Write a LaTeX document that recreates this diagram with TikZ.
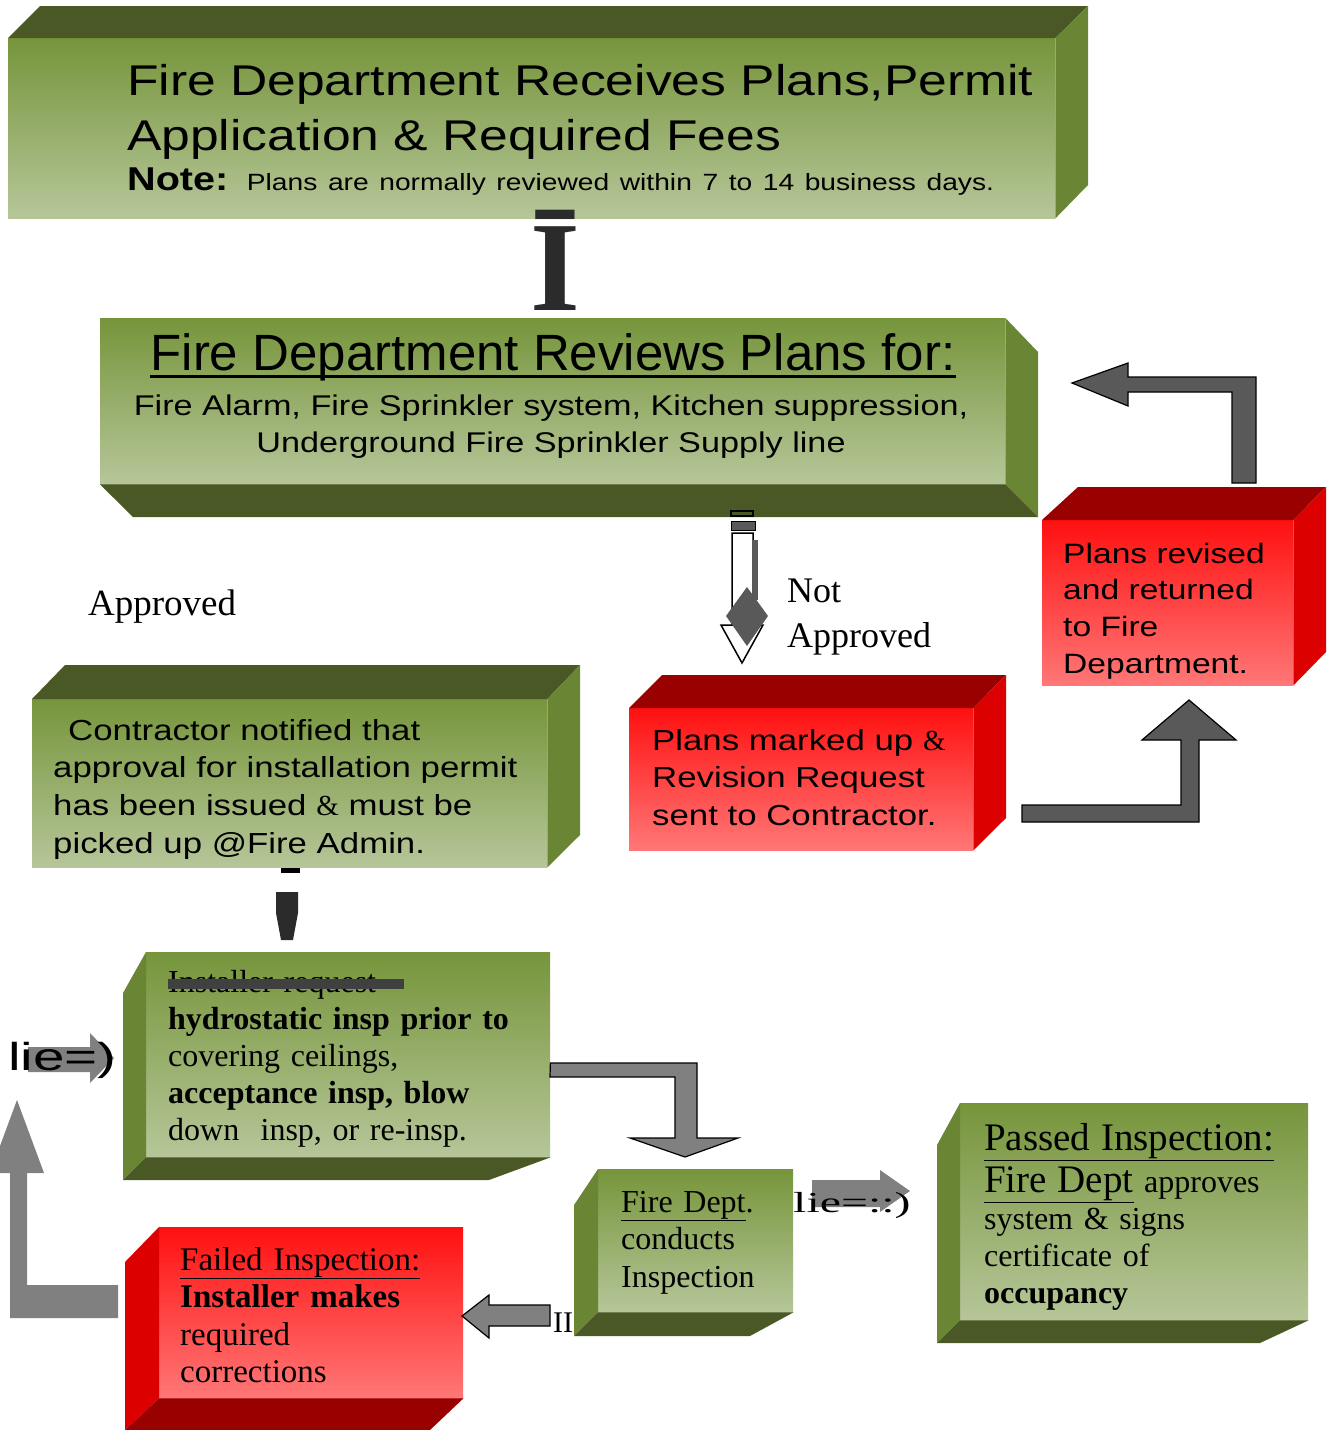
\documentclass[tikz,border=0pt]{standalone}
\usepackage{fontspec}
\setmainfont{Liberation Serif}[WordSpace=1.1]
\newfontfamily\widesf[FakeStretch=1.2,WordSpace=1.35]{Liberation Sans}
\newfontfamily\plainsf{Liberation Sans}
\usetikzlibrary{positioning}

\definecolor{olivedark}{HTML}{4A5826}
\definecolor{oliveside}{HTML}{6A8534}
\definecolor{olivetop}{HTML}{76953B}
\definecolor{olivebot}{HTML}{B6C699}
\definecolor{reddark}{HTML}{990000}
\definecolor{redside}{HTML}{DD0000}
\definecolor{redtop}{HTML}{FF1010}
\definecolor{redbot}{HTML}{FF7777}
\definecolor{arrowdark}{HTML}{595959}
\definecolor{arrowgrey}{HTML}{808080}
\definecolor{glyphgrey}{HTML}{2B2B2B}

\newcommand{\fsz}[2]{\fontsize{#1}{#2}\selectfont}

\begin{document}
\begin{tikzpicture}[x=1pt,y=-1pt,
    gface/.style={inner sep=0pt, top color=olivetop, bottom color=olivebot},
    rface/.style={inner sep=0pt, top color=redtop, bottom color=redbot},
    txt/.style={anchor=base west, inner sep=0pt, align=left},
    darrow/.style={fill=arrowdark, draw=black, line width=1.2pt},
    garrow/.style={fill=arrowgrey, draw=black, line width=1.2pt}]
   \useasboundingbox (0,0) rectangle (1334,1430);
   \clip (0,0) rectangle (1334,1430);

   % receives plans
   \node[gface, anchor=north west, minimum width=1047pt, minimum height=180pt] (recv) at (8,38) {};
   \fill[olivedark] (recv.north west) -- (40,6) -- (1088,6) -- (recv.north east) -- cycle;
   \fill[oliveside] (recv.north east) -- (1088,6) -- (1088,185) -- (recv.south east) -- cycle;
   \node[txt, text width=1000pt, font=\widesf\fsz{43}{55}] (recvtxt) at (127,95)
     {Fire Department Receives Plans,Permit\\Application \& Required Fees};
   \node[txt, font=\widesf] (note) at (127,190)
     {\fsz{33}{40}\bfseries Note: \mdseries\fsz{23.5}{30}Plans are normally reviewed within 7 to 14 business days.};

   % reviews plans
   \node[gface, anchor=north west, minimum width=905pt, minimum height=166pt] (review) at (100,318) {};
   \fill[oliveside] (review.north east) -- (1038,352) -- (1038,517) -- (review.south east) -- cycle;
   \fill[olivedark] (review.south west) -- (review.south east) -- (1038,517) -- (133,517) -- cycle;
   \node[anchor=base, inner sep=0pt, font=\plainsf\fsz{51}{60}] (reviewtitle) at (553,370)
     {Fire Department Reviews Plans for:};
   \fill[black] (reviewtitle.base west) ++(0,5) rectangle ([yshift=-8pt]reviewtitle.base east);
   \node[anchor=base, inner sep=0pt, text width=900pt, align=center, font=\widesf\fsz{28.5}{37}] (reviewtxt) at (551,415)
     {Fire Alarm, Fire Sprinkler system, Kitchen suppression,\\Underground Fire Sprinkler Supply line};

   % revised
   \node[rface, anchor=north west, minimum width=251pt, minimum height=165pt] (revised) at (1042,520) {};
   \fill[reddark] (revised.north west) -- (1078,487) -- (1326,487) -- (revised.north east) -- cycle;
   \fill[redside] (revised.north east) -- (1326,487) -- (1326,652) -- (revised.south east) -- cycle;
   \node[txt, text width=230pt, font=\widesf\fsz{28}{36.7}] (revisedtxt) at (1063,563)
     {Plans revised\\and returned\\to Fire\\Department.};

   % contractor notified
   \node[gface, anchor=north west, minimum width=515pt, minimum height=168pt] (notify) at (32,699) {};
   \fill[olivedark] (notify.north west) -- (65,665) -- (580,665) -- (notify.north east) -- cycle;
   \fill[oliveside] (notify.north east) -- (580,665) -- (580,835) -- (notify.south east) -- cycle;
   \node[txt, text width=490pt, font=\widesf\fsz{29}{37.7}] (notifytxt) at (53,740)
     {\hspace*{15pt}Contractor notified that\\approval for installation permit\\has been issued {\rmfamily\&} must be\\picked up @Fire Admin.};

   % marked up
   \node[rface, anchor=north west, minimum width=344pt, minimum height=142pt] (markup) at (629,708) {};
   \fill[reddark] (markup.north west) -- (662,675) -- (1006,675) -- (markup.north east) -- cycle;
   \fill[redside] (markup.north east) -- (1006,675) -- (1006,818) -- (markup.south east) -- cycle;
   \node[txt, text width=320pt, font=\widesf\fsz{29}{37.5}] (markuptxt) at (652,750)
     {Plans marked up {\rmfamily\&}\\Revision Request\\sent to Contractor.};

   % installer request
   \node[gface, anchor=north west, minimum width=404pt, minimum height=205pt] (request) at (146,952) {};
   \fill[oliveside] (123,993) -- (request.north west) -- (request.south west) -- (123,1180) -- cycle;
   \fill[olivedark] (request.south west) -- (request.south east) -- (489,1180) -- (123,1180) -- cycle;
   \node[txt, text width=380pt, font=\fsz{32}{37}] (requesttxt) at (168,992)
     {Installer request\\\textbf{hydrostatic insp prior to}\\covering ceilings,\\\textbf{acceptance insp, blow}\\down\ \ insp, or re-insp.};
   \fill[black!75] (168,979) rectangle (404,989);

   % conducts inspection
   \node[gface, anchor=north west, minimum width=195pt, minimum height=143pt] (inspect) at (598,1169) {};
   \fill[oliveside] (574,1205) -- (inspect.north west) -- (inspect.south west) -- (574,1336) -- cycle;
   \fill[olivedark] (inspect.south west) -- (inspect.south east) -- (750,1336) -- (574,1336) -- cycle;
   \node[txt, text width=170pt, font=\fsz{32}{37.5}] (inspecttxt) at (621,1212)
     {\underline{Fire Dept}.\\conducts\\Inspection};

   % passed
   \node[gface, anchor=north west, minimum width=348pt, minimum height=217pt] (passed) at (960,1103) {};
   \fill[oliveside] (937,1145) -- (passed.north west) -- (passed.south west) -- (937,1343) -- cycle;
   \fill[olivedark] (passed.south west) -- (passed.south east) -- (1260,1343) -- (937,1343) -- cycle;
   \node[txt, text width=330pt, font=\fsz{32}{37}] (passedtxt) at (984,1150)
     {{\fsz{39}{37}\underline{Passed Inspection:}}\\[5pt]{\fsz{39}{37}\underline{Fire Dept}} approves\\system \& signs\\certificate of\\\textbf{occupancy}};

   % failed
   \node[rface, anchor=north west, minimum width=304pt, minimum height=171pt] (failed) at (159,1227) {};
   \fill[redside] (125,1262) -- (failed.north west) -- (failed.south west) -- (125,1430) -- cycle;
   \fill[reddark] (failed.south west) -- (failed.south east) -- (430,1430) -- (125,1430) -- cycle;
   \node[txt, text width=290pt, font=\fsz{33}{37.5}] (failedtxt) at (180,1270)
     {\underline{Failed Inspection:}\\\textbf{Installer makes}\\required\\corrections};

   % connectors
   \node[anchor=base, inner sep=0pt, text=glyphgrey, font=\fsz{128}{128}\bfseries] (glyph) at (555,310) {Ī};

   \draw[black, line width=1.2pt] (731,511) rectangle (753,516);
   \filldraw[fill=arrowdark, draw=black, line width=1pt] (731,521) rectangle (755,530);
   \filldraw[fill=white, draw=black, line width=1.5pt]
     (732,533) -- (753,533) -- (753,625) -- (763,625) -- (742,663) -- (721,625) -- (732,625) -- cycle;
   \fill[arrowdark] (752,540) rectangle (758,600);
   \fill[arrowdark] (726,616) -- (747,587) -- (768,616) -- (747,646) -- cycle;
   \node[txt, text width=200pt, font=\fsz{36}{45}] (notok) at (787,602) {Not\\Approved};
   \node[txt, font=\fsz{37}{45}] (ok) at (88,615) {Approved};

   \filldraw[darrow] (1022,805) -- (1181,805) -- (1181,740) -- (1142,740) -- (1189,700)
     -- (1236,740) -- (1199,740) -- (1199,822) -- (1022,822) -- cycle;
   \filldraw[darrow] (1232,483) -- (1232,392) -- (1128,392) -- (1128,406) -- (1072,383)
     -- (1128,363) -- (1128,377) -- (1256,377) -- (1256,483) -- cycle;

   \fill[black] (281,868) rectangle (300,873);
   \fill[glyphgrey] (276,892) -- (298,892) -- (298,913) -- (293,940) -- (281,940) -- (276,913) -- cycle;

   \filldraw[garrow] (request.east |- 0,1063) -- (697,1063) -- (697,1138) -- (738,1138) -- (685,1157)
     -- (630,1138) -- (675,1138) -- (675,1077) -- (550,1077) -- cycle;
   \fill[arrowgrey] (812,1180) -- (880,1180) -- (880,1170) -- (910,1191) -- (880,1212)
     -- (880,1207) -- (812,1207) -- cycle;
   \node[txt, font=\fsz{29}{30}] (garble2) at (793,1212) {\scalebox{1.65}[1]{lie=::)}};
   \filldraw[garrow] (550,1305) -- (489,1305) -- (489,1295) -- (462,1316) -- (489,1338)
     -- (489,1326) -- (550,1326) -- cycle;
   \node[txt, font=\fsz{30}{30}] (mark) at (553,1332) {II};
   \fill[arrowgrey] (118,1285) -- (27,1285) -- (27,1173) -- (44,1173) -- (17,1100) -- (-10,1173)
     -- (10,1173) -- (10,1318) -- (118,1318) -- cycle;
   \fill[arrowgrey] (28,1047) -- (90,1047) -- (90,1033) -- (114,1058) -- (90,1083) -- (90,1072)
     -- (28,1072) -- cycle;
   \node[txt, font=\plainsf\fsz{39}{40}] (garble1) at (8,1070) {\scalebox{1.45}[1]{lie=)}};
\end{tikzpicture}
\end{document}
